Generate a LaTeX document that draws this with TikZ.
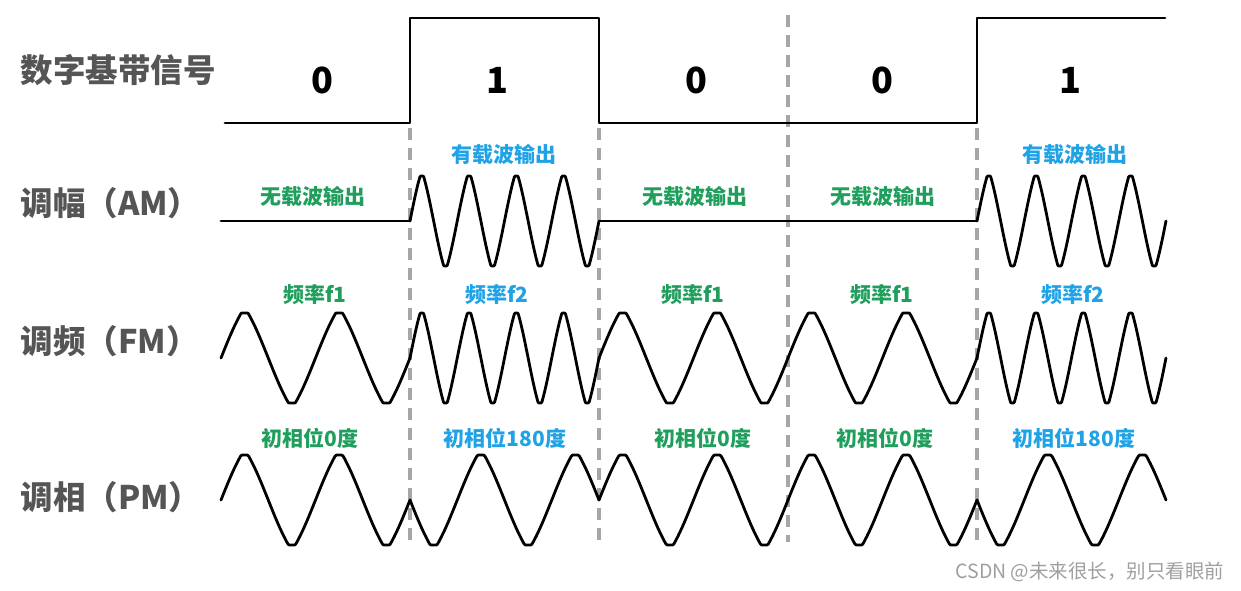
\documentclass[tikz,border=0pt]{standalone}
\usepackage{fontspec}
\setmainfont{Noto Sans CJK SC}
\usepackage{xcolor}
\usepackage{tikz}
\definecolor{lblgray}{HTML}{555555}
\definecolor{offgreen}{HTML}{1F9E5C}
\definecolor{onblue}{HTML}{1FA2E6}

\begin{document}
\begin{tikzpicture}[x=1pt, y=-1pt,
    sig/.style={line width=2.8pt, line join=round, line cap=round},
    sep/.style={draw=gray!70, line width=3.2pt, dash pattern=on 12pt off 8pt},
    rowlbl/.style={anchor=west, text=lblgray, font=\fontsize{32.5}{35}\selectfont\bfseries},
    bitlbl/.style={font=\fontsize{36}{38}\selectfont\bfseries},
    offlbl/.style={text=offgreen, font=\fontsize{21}{23}\selectfont\bfseries},
    onlbl/.style={text=onblue, font=\fontsize{21}{23}\selectfont\bfseries},
    declare function={wv(\t)=max(-1,min(1,1.12*(0.3*sin(\t)+0.7*asin(sin(\t))/90)));}
  ]
    \useasboundingbox (0,0) rectangle (1241,590);

    % bit boundaries (hidden behind the edges of the baseband signal)
    \foreach \k/\top in {1/128,2/128,3/15,4/128}
      \draw[sep] ({221+189*\k},\top) -- ({221+189*\k},542);

    % row titles
    \node[rowlbl] (base) at (17,70) {数字基带信号};
    \node[rowlbl] (am) at (17,203) {调幅（AM）};
    \node[rowlbl] (fm) at (17,341) {调频（FM）};
    \node[rowlbl] (pm) at (17,497) {调相（PM）};

    % digital baseband signal
    \draw[sig] (225,123) -- (410,123) -- (410,18) -- (599,18) -- (599,123)
      -- (977,123) -- (977,18) -- (1165,18);
    \node[bitlbl] (b0) at (322,80) {0};
    \node[bitlbl] (b1) at (497,80) {1};
    \node[bitlbl] (b2) at (696,80) {0};
    \node[bitlbl] (b3) at (882,80) {0};
    \node[bitlbl] (b4) at (1070,80) {1};

    % modulated signals
    \foreach \k/\b in {0/0,1/1,2/0,3/0,4/1} {
      \pgfmathsetmacro{\xs}{221+189*\k}
      \pgfmathtruncatemacro{\n}{2+2*\b}
      \pgfmathsetmacro{\sg}{1-2*\b}
      % AM
      \ifnum\b=1
        \draw[sig] plot[variable=\t, domain=0:1440, samples=193]
          ({\xs+\t/1440*189}, {221-45*wv(\t)});
      \else
        \draw[sig] (\xs,221) -- ({\xs+189},221);
      \fi
      % FM
      \draw[sig] plot[variable=\t, domain=0:360*\n, samples=193]
        ({\xs+\t/(360*\n)*189}, {358-45*wv(\t)});
      % PM
      \draw[sig] plot[variable=\t, domain=0:720, samples=145]
        ({\xs+\t/720*189}, {500-\sg*45*wv(\t)});
    }

    % AM labels
    \node[offlbl] (am0) at (313,197) {无载波输出};
    \node[onlbl] (am1) at (504,155) {有载波输出};
    \node[offlbl] (am2) at (695,197) {无载波输出};
    \node[offlbl] (am3) at (883,197) {无载波输出};
    \node[onlbl] (am4) at (1075,155) {有载波输出};
    % FM labels
    \node[offlbl] (fm0) at (315,295) {频率f1};
    \node[onlbl] (fm1) at (497,295) {频率f2};
    \node[offlbl] (fm2) at (693,295) {频率f1};
    \node[offlbl] (fm3) at (882,295) {频率f1};
    \node[onlbl] (fm4) at (1073,295) {频率f2};
    % PM labels
    \node[offlbl] (pm0) at (310,438) {初相位0度};
    \node[onlbl] (pm1) at (505,438) {初相位180度};
    \node[offlbl] (pm2) at (703,438) {初相位0度};
    \node[offlbl] (pm3) at (885,438) {初相位0度};
    \node[onlbl] (pm4) at (1074,438) {初相位180度};

    \node[text=gray!75, font=\fontsize{19.5}{21}\selectfont] (mark) at (1090,572)
      {CSDN @未来很长，别只看眼前};
  \end{tikzpicture}
\end{document}
